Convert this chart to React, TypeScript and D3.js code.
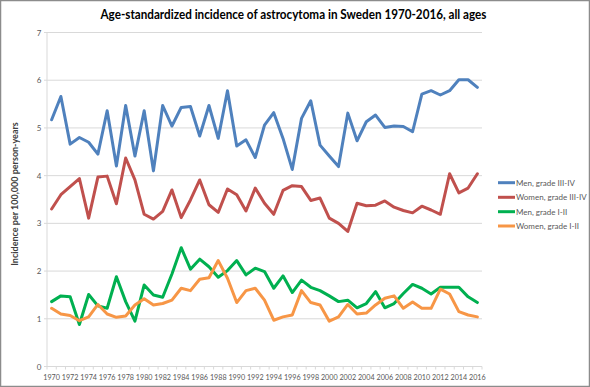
import React from "react";
import * as d3 from "d3";

const years: number[] = d3.range(1970, 2017);

const menHigh: number[] = [5.17, 5.66, 4.66, 4.80, 4.70, 4.45, 5.36, 4.20, 5.47, 4.41, 5.36, 4.10, 5.47, 5.04, 5.43, 5.45, 4.83, 5.47, 4.78, 5.78, 4.62, 4.75, 4.38, 5.06, 5.32, 4.78, 4.13, 5.20, 5.57, 4.64, 4.41, 4.19, 5.31, 4.73, 5.13, 5.27, 5.01, 5.04, 5.03, 4.92, 5.71, 5.78, 5.69, 5.78, 6.01, 6.01, 5.85];
const womenHigh: number[] = [3.30, 3.60, 3.77, 3.94, 3.11, 3.97, 3.99, 3.41, 4.37, 3.91, 3.19, 3.09, 3.25, 3.70, 3.12, 3.49, 3.91, 3.39, 3.23, 3.72, 3.60, 3.26, 3.74, 3.42, 3.19, 3.69, 3.79, 3.77, 3.48, 3.53, 3.11, 3.00, 2.83, 3.42, 3.37, 3.38, 3.47, 3.34, 3.27, 3.22, 3.36, 3.28, 3.19, 4.04, 3.64, 3.74, 4.04];
const menLow: number[] = [1.36, 1.48, 1.46, 0.88, 1.51, 1.27, 1.22, 1.88, 1.36, 0.95, 1.71, 1.50, 1.45, 1.94, 2.49, 2.04, 2.25, 2.09, 1.87, 2.01, 2.22, 1.92, 2.06, 1.99, 1.64, 1.90, 1.55, 1.81, 1.66, 1.59, 1.48, 1.36, 1.39, 1.23, 1.32, 1.57, 1.23, 1.32, 1.53, 1.72, 1.64, 1.52, 1.66, 1.66, 1.66, 1.46, 1.34];
const womenLow: number[] = [1.22, 1.10, 1.07, 0.96, 1.04, 1.30, 1.10, 1.03, 1.06, 1.29, 1.42, 1.29, 1.32, 1.39, 1.64, 1.59, 1.83, 1.86, 2.22, 1.85, 1.34, 1.59, 1.64, 1.39, 0.97, 1.04, 1.08, 1.59, 1.34, 1.29, 0.95, 1.04, 1.30, 1.10, 1.12, 1.29, 1.43, 1.48, 1.22, 1.35, 1.22, 1.22, 1.62, 1.52, 1.15, 1.08, 1.04];

const seriesNames: string[] = ["Men, grade III-IV", "Women, grade III-IV", "Men, grade I-II", "Women, grade I-II"];
const seriesColors: string[] = ["#4F81BD", "#C0504D", "#00B050", "#F79646"];
const yTicks: number[] = [0, 1, 2, 3, 4, 5, 6, 7];
const xTickYears: number[] = years.filter((y) => (y - 1970) % 2 === 0);

const title = "Age-standardized incidence of astrocytoma in Sweden 1970-2016, all ages";
const yTitle = "Incidence per 100,000 person-years";

export default function App() {
  const W = 590;
  const H = 387;
  const left = 47;
  const right = 482;
  const top = 32.5;
  const bottom = 366.5;
  const font = "Lato, 'Open Sans', sans-serif";

  const x = d3.scalePoint<number>().domain(years).range([left, right]).padding(0.5);
  const y = d3.scaleLinear().domain([0, 7]).range([bottom, top]);
  const step = x.step();

  const allSeries = [menHigh, womenHigh, menLow, womenLow];
  const line = d3
    .line<number>()
    .x((_, i) => x(years[i]) as number)
    .y((d) => y(d));

  const legendY = [182.7, 197.3, 211.7, 226];

  return (
    <svg width={W} height={H} style={{ position: "absolute", left: 0, top: 0, background: "#fff" }}>
      <rect x={0.5} y={0.5} width={W - 1} height={H - 1} fill="#fff" stroke="#8c8c8c" strokeWidth={1.5} />
      <text x={293.5} y={19} textAnchor="middle" fontFamily={font} fontWeight="bold" fontSize={12.5} fill="#000"
        textLength={386} lengthAdjust="spacingAndGlyphs">
        {title}
      </text>
      {yTicks.map((t) => (
        <g key={"yt" + t}>
          {t > 0 && <line x1={left} x2={right} y1={y(t)} y2={y(t)} stroke="#D9D9D9" strokeWidth={1} />}
          <line x1={left - 3} x2={left} y1={y(t)} y2={y(t)} stroke="#D9D9D9" strokeWidth={1} />
          <text x={39} y={y(t) + 3} textAnchor="middle" fontFamily={font} fontSize={8} fill="#595959">
            {t}
          </text>
        </g>
      ))}
      <line x1={left} x2={left} y1={top} y2={bottom} stroke="#D9D9D9" strokeWidth={1} />
      <line x1={left} x2={right} y1={bottom} y2={bottom} stroke="#D9D9D9" strokeWidth={1} />
      {years.concat([2017]).map((yr, i) => (
        <line key={"xt" + yr} x1={left + i * step} x2={left + i * step} y1={bottom} y2={bottom + 3} stroke="#D9D9D9" strokeWidth={1} />
      ))}
      {xTickYears.map((yr) => (
        <text key={"xl" + yr} x={x(yr) as number} y={380} textAnchor="middle" fontFamily={font} fontSize={7.2} fill="#595959">
          {yr}
        </text>
      ))}
      <text transform={`translate(17.5,194) rotate(-90)`} textAnchor="middle" fontFamily={font} fontWeight="bold" fontSize={9} fill="#404040">
        {yTitle}
      </text>
      {allSeries.map((s, k) => (
        <path key={"s" + k} d={line(s) || ""} fill="none" stroke={seriesColors[k]} strokeWidth={3} strokeLinejoin="round" strokeLinecap="round" />
      ))}
      {seriesNames.map((n, k) => (
        <g key={"lg" + k}>
          <line x1={498} x2={515} y1={legendY[k]} y2={legendY[k]} stroke={seriesColors[k]} strokeWidth={3} />
          <text x={516} y={legendY[k] + 2.8} fontFamily={font} fontSize={8} fill="#595959">
            {n}
          </text>
        </g>
      ))}
    </svg>
  );
}
